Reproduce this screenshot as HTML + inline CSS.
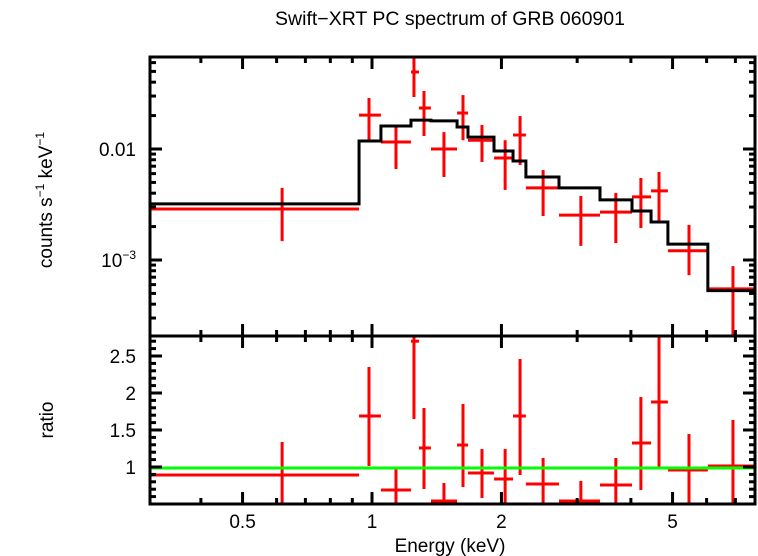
<!DOCTYPE html>
<html><head><meta charset="utf-8"><style>
body{margin:0;background:#fff;}
svg{display:block;font-family:"Liberation Sans",sans-serif;}
</style></head><body>
<svg id="chart" width="758" height="556" viewBox="0 0 758 556">
<text x="450" y="25" font-size="19.5" text-anchor="middle">Swift−XRT PC spectrum of GRB 060901</text>
<text transform="translate(52,200) rotate(-90)" font-size="19" text-anchor="middle">counts s<tspan font-size="12" dy="-8">−1</tspan><tspan dy="8"> keV</tspan><tspan font-size="12" dy="-8">−1</tspan></text>
<text transform="translate(53,420) rotate(-90)" font-size="19" text-anchor="middle">ratio</text>
<text x="450" y="552" font-size="19" text-anchor="middle">Energy (keV)</text>
<g id="g"></g>
</svg>
<script>
// Data (energies in keV)
const binEdges=[0.305,0.933,1.049,1.232,1.286,1.371,1.577,1.672,1.922,2.128,2.280,2.722,3.390,4.024,4.456,4.877,6.04,7.78];
const energyCenters=[0.618,0.984,1.137,1.252,1.321,1.470,1.628,1.802,2.04,2.21,2.50,3.06,3.69,4.22,4.65,5.46,6.91];
const counts=[0.00288,0.0202,0.01156,0.0494,0.0234,0.0100,0.0211,0.0120,0.0083,0.01337,0.00446,0.00254,0.0027,0.0037,0.00419,0.00121,0.00055];
const countsHi=[0.00446,0.0288,0.01645,0.08,0.0333,0.0142,0.0306,0.01645,0.0120,0.0198,0.00647,0.00377,0.00402,0.00548,0.00621,0.00207,0.00088];
const countsLo=[0.00148,0.0120,0.0066,0.0294,0.0131,0.0056,0.0120,0.00764,0.00428,0.00718,0.00249,0.00134,0.00142,0.00194,0.00224,0.00073,0.0001];
const model=[0.0032,0.0118,0.0161,0.0182,0.0182,0.0179,0.0158,0.0128,0.0096,0.0078,0.0056,0.00446,0.00348,0.00276,0.0022,0.00139,0.00053];
const ratio=[0.892,1.689,0.689,2.70,1.257,0.541,1.297,0.919,0.838,1.689,0.770,0.541,0.757,1.324,1.878,0.959,1.014];
const ratioHi=[1.338,2.351,0.973,3.0,1.797,0.784,1.851,1.243,1.243,2.459,1.122,0.811,1.122,1.946,3.0,1.446,1.635];
const ratioLo=[0.45,1.014,0.3,1.649,0.703,0.3,0.730,0.581,0.3,0.892,0.3,0.3,0.3,0.689,1.0,0.3,0.3];
const xTicksMajor=[0.5,1,2,5];
const ratioTicks=[1,1.5,2,2.5];

const L=150,R=755,T1=57,B1=336,T2=336,B2=504;
const X=e=>372+430*Math.log10(e);
const Y1=c=>149-111*(Math.log10(c)+2);
const Y2=r=>467-74*(r-1);
const NS="http://www.w3.org/2000/svg";
const g=document.getElementById('g');
function mk(t,a){const e=document.createElementNS(NS,t);for(const k in a)e.setAttribute(k,a[k]);g.appendChild(e);return e;}
const cl=(v,a,b)=>Math.max(a,Math.min(b,v));

const defs=document.createElementNS(NS,'defs');
defs.innerHTML='<clipPath id="c1"><rect x="150" y="57" width="605" height="279"/></clipPath><clipPath id="c2"><rect x="150" y="336" width="605" height="168"/></clipPath>';
g.appendChild(defs);

for(let i=0;i<counts.length;i++){
  const x0=X(binEdges[i]),x1=X(binEdges[i+1]),xc=X(energyCenters[i]);
  const y=Y1(counts[i]),yh=cl(Y1(countsHi[i]),T1,B1),yl=cl(Y1(countsLo[i]),T1,B1);
  const h=mk('line',{x1:x0,x2:x1,y1:y,y2:y,stroke:'#ff0000','stroke-width':3,'clip-path':'url(#c1)'});
  
  
  const v=mk('line',{x1:xc,x2:xc,y1:yh,y2:yl,stroke:'#ff0000','stroke-width':3});
  
  
}
let d='';
for(let i=0;i<model.length;i++){
  const x0=X(binEdges[i]),x1=X(binEdges[i+1]),y=Y1(model[i]);
  d+=(i===0?'M':'L')+x0+','+y+'L'+x1+','+y;
}
const m=mk('path',{d:d,fill:'none',stroke:'#000','stroke-width':3});



for(let i=0;i<ratio.length;i++){
  const x0=X(binEdges[i]),x1=X(binEdges[i+1]),xc=X(energyCenters[i]);
  const y=Y2(ratio[i]),yh=cl(Y2(ratioHi[i]),T2,B2),yl=cl(Y2(ratioLo[i]),T2,B2);
  const h=mk('line',{x1:x0,x2:x1,y1:y,y2:y,stroke:'#ff0000','stroke-width':3,'clip-path':'url(#c2)'});
  
  
  const v=mk('line',{x1:xc,x2:xc,y1:yh,y2:yl,stroke:'#ff0000','stroke-width':3});
  
  
}
const gl=mk('line',{x1:L,x2:R,y1:Y2(1)+1,y2:Y2(1)+1,stroke:'#00ff00','stroke-width':3});



const f1=mk('rect',{x:L,y:T1,width:R-L,height:B1-T1,fill:'none',stroke:'#000','stroke-width':3});


const f2=mk('rect',{x:L,y:T2,width:R-L,height:B2-T2,fill:'none',stroke:'#000','stroke-width':3});



const xs=[];
for(let k=-1;k<=0;k++)for(let j=1;j<10;j++)xs.push(j*Math.pow(10,k));
xs.push(10);
xs.forEach(e=>{
  const x=X(e);if(x<L||x>R)return;
  const maj=xTicksMajor.some(v=>Math.abs(v-e)<1e-9);
  const len=maj?12:6;
  [[T1,1],[B1,-1],[T2,1],[B2,-1]].forEach(([y,s])=>mk('line',{x1:x,x2:x,y1:y,y2:y+s*len,stroke:'#000','stroke-width':3}));
});
xTicksMajor.forEach(e=>{
  const t=mk('text',{x:X(e),y:528,'font-size':19,'text-anchor':'middle'});
  t.textContent=String(e);
  
  
});
for(let k=-4;k<=-1;k++)for(let j=1;j<10;j++){
  const c=j*Math.pow(10,k),y=Y1(c);if(y<T1||y>B1)continue;
  const len=j===1?12:6;
  mk('line',{x1:L,x2:L+len,y1:y,y2:y,stroke:'#000','stroke-width':3});
  mk('line',{x1:R,x2:R-len,y1:y,y2:y,stroke:'#000','stroke-width':3});
}
let t=mk('text',{x:136,y:Y1(0.01)+7,'font-size':19,'text-anchor':'end'});t.textContent='0.01';


t=mk('text',{x:136,y:Y1(0.001)+7,'font-size':19,'text-anchor':'end'});t.innerHTML='10<tspan font-size="12" dy="-8">−3</tspan>';


for(let r=0.5;r<=2.8;r+=0.1){
  const y=Y2(r);if(y<T2||y>B2)continue;
  const maj=Math.abs(r*2-Math.round(r*2))<1e-6;
  const len=maj?12:6;
  mk('line',{x1:L,x2:L+len,y1:y,y2:y,stroke:'#000','stroke-width':3});
  mk('line',{x1:R,x2:R-len,y1:y,y2:y,stroke:'#000','stroke-width':3});
}
ratioTicks.forEach(r=>{
  const tt=mk('text',{x:136,y:Y2(r)+7,'font-size':19,'text-anchor':'end'});
  tt.textContent=String(r);
  
  
});
</script>
</body></html>
